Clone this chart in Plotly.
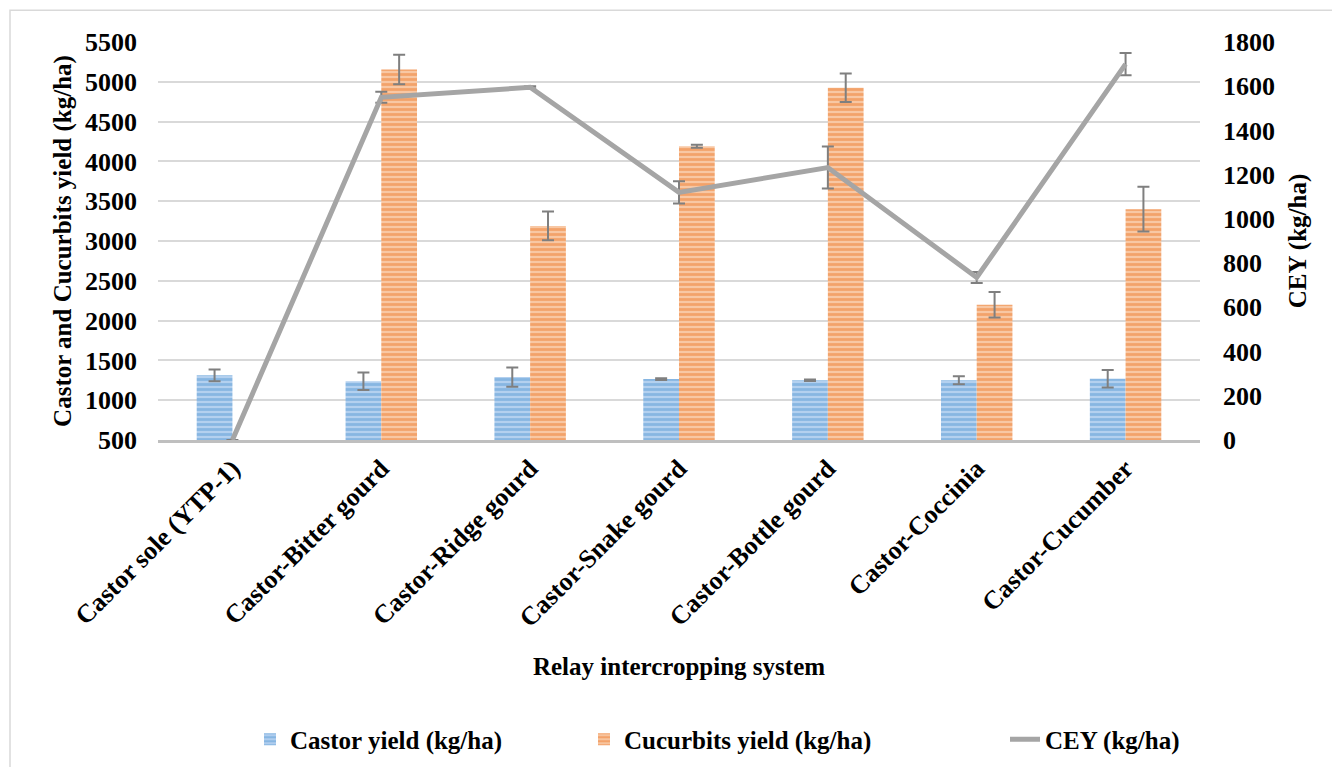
import plotly.graph_objects as go

categories = ["Castor sole (YTP-1)", "Castor-Bitter gourd", "Castor-Ridge gourd",
              "Castor-Snake gourd", "Castor-Bottle gourd", "Castor-Coccinia", "Castor-Cucumber"]
castor_yield = [1312, 1237, 1290, 1265, 1250, 1250, 1270]
castor_err = [75, 110, 120, 10, 10, 50, 110]
cucurbits_yield = [0, 5155, 3190, 4190, 4925, 2200, 3400]
cucurbits_err = [0, 185, 180, 20, 180, 160, 280]
cey = [0, 1550, 1595, 1120, 1232, 735, 1700]
cey_err = [0, 25, 5, 50, 95, 25, 50]

FONT = "Liberation Serif"
OFF = 8  # page body margin
W, H = 1340 - OFF, 767
ML, MT = 158 - OFF, 42 - OFF
PW, PH = 1200 - 158, 442 - 42
MR, MB = W - ML - PW, H - MT - PH


def px_x(sx):
    return (sx - OFF - ML) / PW


def px_y(sy):
    return 1 - (sy - OFF - MT) / PH


fig = go.Figure()
fig.add_trace(go.Bar(
    x=categories, y=castor_yield, name="Castor yield (kg/ha)", legend="legend",
    marker=dict(color="#a9c9ec", line=dict(width=0),
                pattern=dict(shape="-", fgcolor="#5b9bd5", bgcolor="#b3d0ef", size=5, solidity=0.55)),
    error_y=dict(type="data", array=castor_err, color="#7f7f7f", thickness=2, width=6),
))
fig.add_trace(go.Bar(
    x=categories, y=cucurbits_yield, name="Cucurbits yield (kg/ha)", legend="legend2",
    marker=dict(color="#f6b98e", line=dict(width=0),
                pattern=dict(shape="-", fgcolor="#ed7d31", bgcolor="#f8c7a3", size=5, solidity=0.55)),
    error_y=dict(type="data", array=cucurbits_err, color="#7f7f7f", thickness=2, width=6),
))
fig.add_trace(go.Scatter(
    x=categories, y=cey, name="CEY (kg/ha)", yaxis="y2", mode="lines", legend="legend3",
    line=dict(color="#a5a5a5", width=5),
    error_y=dict(type="data", array=cey_err, color="#7f7f7f", thickness=2, width=6),
))

tickfont = dict(family=FONT, size=26, color="black", weight="bold")
titlefont = dict(family=FONT, size=25, color="black", weight="bold")
legfont = dict(family=FONT, size=25, color="black", weight="bold")
fig.update_layout(
    width=W, height=H,
    margin=dict(l=ML, r=MR, t=MT, b=MB),
    paper_bgcolor="white", plot_bgcolor="white",
    barmode="group", bargap=0.52, bargroupgap=0,
    font=dict(family=FONT, color="black"),
    xaxis=dict(
        tickangle=-45, tickfont=dict(family=FONT, size=26, color="black", weight="bold"),
        showgrid=False, automargin=False,
        showline=True, linecolor="#bfbfbf", linewidth=3, ticks="",
        title=dict(text="Relay intercropping system", font=titlefont, standoff=26),
    ),
    yaxis=dict(
        range=[500, 5500], dtick=500, tickfont=tickfont, automargin=False,
        showgrid=True, gridcolor="#d9d9d9", gridwidth=1.5, zeroline=False,
        ticks="", showline=False, ticklabelstandoff=20,
        title=dict(text="Castor and Cucurbits yield (kg/ha)", font=titlefont, standoff=6),
    ),
    yaxis2=dict(
        range=[0, 1800], dtick=200, overlaying="y", side="right", automargin=False,
        tickfont=tickfont, showgrid=False, zeroline=False, ticks="", showline=False,
        ticklabelstandoff=22,
        title=dict(text="CEY (kg/ha)", font=titlefont, standoff=14),
    ),
    legend=dict(x=px_x(250), xanchor="left", y=px_y(743), yanchor="middle", font=legfont),
    legend2=dict(x=px_x(584), xanchor="left", y=px_y(743), yanchor="middle", font=legfont),
    legend3=dict(x=px_x(1005), xanchor="left", y=px_y(743), yanchor="middle", font=legfont),
    showlegend=True,
)

# chart border (right and bottom edges run off the page, as in the reference)
fig.add_shape(type="rect", xref="paper", yref="paper",
              x0=px_x(10), x1=px_x(1360),
              y0=px_y(800), y1=px_y(10),
              line=dict(color="#d9d9d9", width=1.5), layer="below")

fig.write_html("out.html")
